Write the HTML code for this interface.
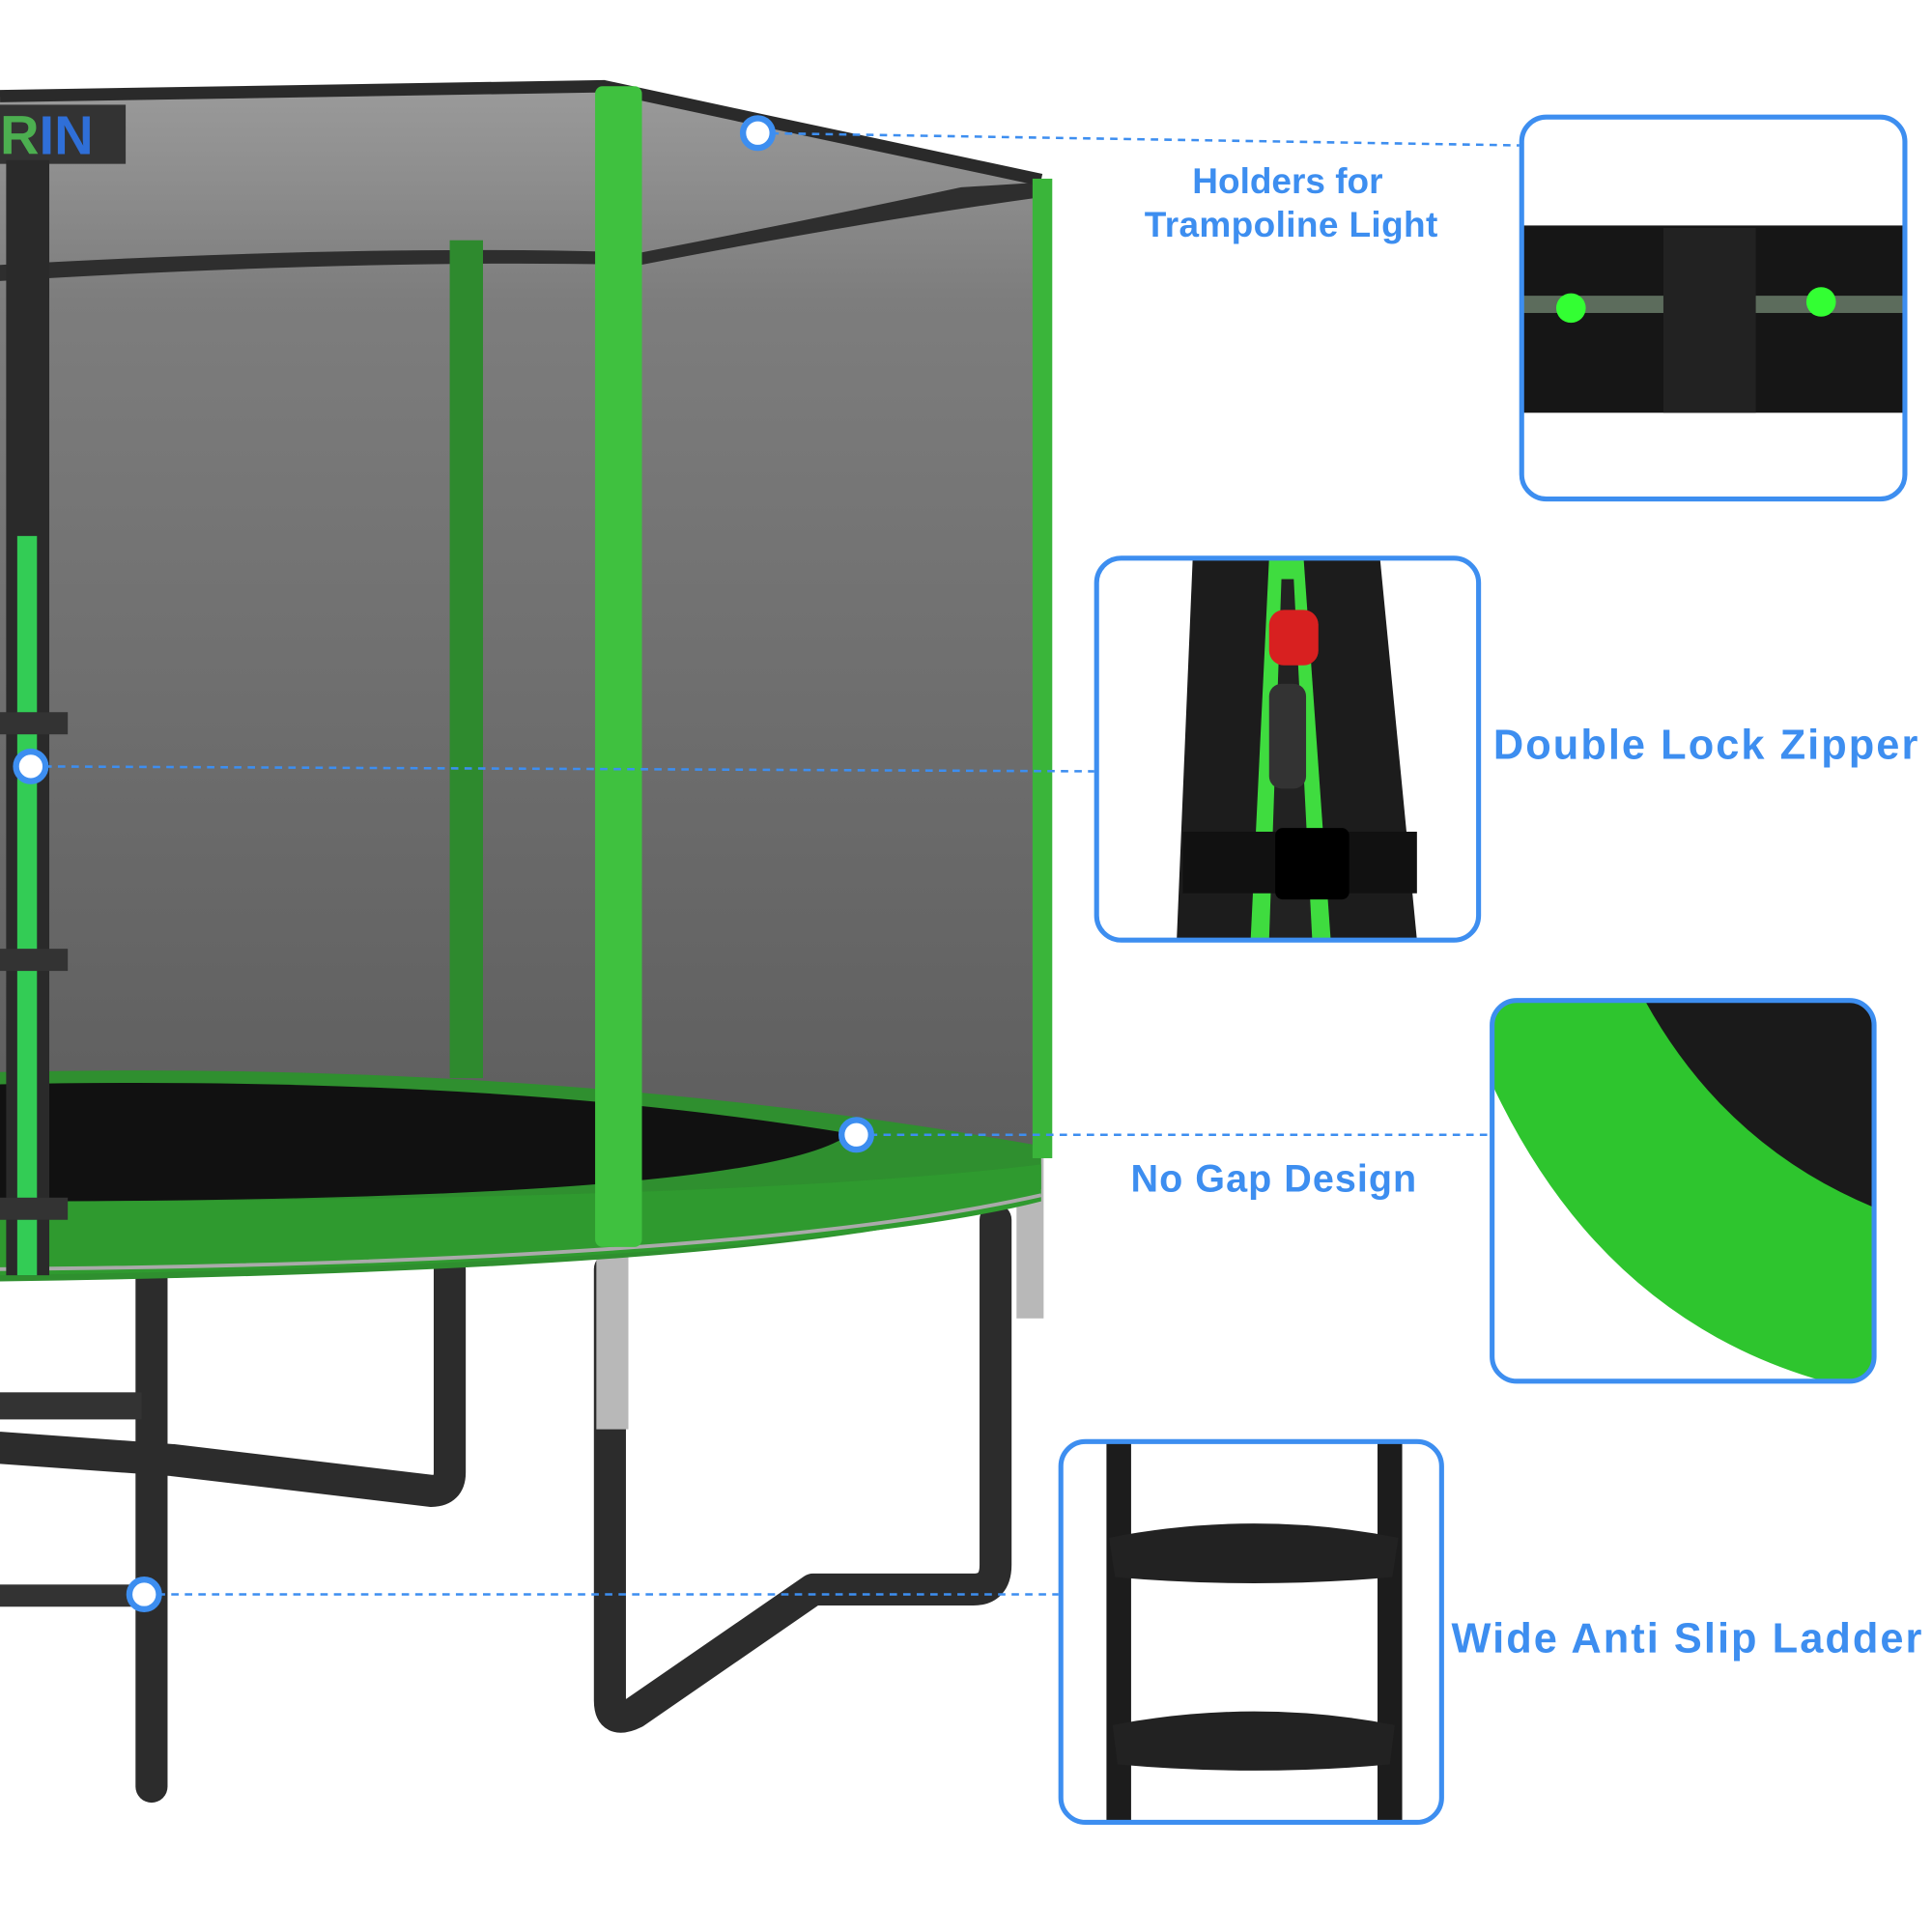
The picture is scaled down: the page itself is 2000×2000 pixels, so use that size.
<!DOCTYPE html>
<html><head><meta charset="utf-8"><style>html,body{margin:0;padding:0;background:#fff}svg{display:block}</style></head>
<body>
<svg width="2000" height="2000" viewBox="0 0 1568 1568" xmlns="http://www.w3.org/2000/svg">
<defs>
<linearGradient id="net" x1="0" y1="0" x2="0" y2="1"><stop offset="0" stop-color="#9a9a9a"/><stop offset="0.2" stop-color="#7d7d7d"/><stop offset="1" stop-color="#5e5e5e"/></linearGradient>
<clipPath id="c1"><rect x="1235" y="95" width="311" height="310" rx="20"/></clipPath>
<clipPath id="c2"><rect x="890" y="453" width="310" height="310" rx="20"/></clipPath>
<clipPath id="c3"><rect x="1211" y="812" width="310" height="309" rx="20"/></clipPath>
<clipPath id="c4"><rect x="861" y="1170" width="309" height="309" rx="20"/></clipPath>
</defs>
<rect width="1568" height="1568" fill="#fff"/>
<path d="M0 80 L490 72 L620 100 L845 148 L845 930 L0 930 Z" fill="url(#net)"/>
<path d="M0 215 Q300 198 520 205 Q650 180 780 152 L845 148 L845 160 Q700 180 520 215 Q300 210 0 228 Z" fill="#2e2e2e"/>
<path d="M0 78 L490 70 L620 98 L845 146" fill="none" stroke="#2a2a2a" stroke-width="10"/>
<rect x="0" y="85" width="102" height="48" fill="#333"/>
<text x="0" y="125" font-family="Liberation Sans,sans-serif" font-weight="bold" font-size="44" fill="#4caf50">R<tspan fill="#2f6fd8">IN</tspan></text>
<g fill="none" stroke="#2c2c2c" stroke-width="26" stroke-linejoin="round" stroke-linecap="round">
<path d="M495 1030 L495 1380 Q495 1400 515 1390 L660 1290 L790 1290 Q808 1290 808 1270 L808 990"/>
<path d="M365 1030 L365 1195 Q365 1210 350 1210 L140 1185 L0 1175"/>
<path d="M123 1030 L123 1450"/>
</g>
<rect x="0" y="1130" width="115" height="22" fill="#333"/>
<rect x="0" y="1286" width="115" height="18" fill="#333"/>
<rect x="484" y="1010" width="26" height="150" fill="#b8b8b8"/>
<rect x="825" y="940" width="22" height="130" fill="#b8b8b8"/>
<path d="M0 870 Q450 860 845 930 L845 965 Q700 1030 0 1040 Z" fill="#2f8f2f"/>
<path d="M0 880 Q400 872 690 920 Q620 975 0 975 Z" fill="#111"/>
<path d="M0 975 Q600 975 845 945 L845 975 Q650 1025 0 1035 Z" fill="#2f9a2f"/>
<path d="M0 1030 Q600 1025 845 970" fill="none" stroke="#aaa" stroke-width="3"/>
<rect x="365" y="195" width="27" height="680" fill="#2e8a2e"/>
<rect x="838" y="145" width="16" height="795" fill="#3ab53a"/>
<rect x="483" y="70" width="38" height="942" rx="6" fill="#3fc13f"/>
<rect x="5" y="130" width="35" height="905" fill="#2a2a2a"/>
<rect x="14" y="435" width="16" height="600" fill="#33cc55"/>
<rect x="0" y="578" width="55" height="18" fill="#333"/><rect x="0" y="770" width="55" height="18" fill="#333"/><rect x="0" y="972" width="55" height="18" fill="#333"/>
<g stroke="#3d8ef0" stroke-width="2" stroke-dasharray="6,5" fill="none">
<path d="M615 108 L1233 118"/><path d="M25 622 L888 626"/><path d="M695 921 L1209 921"/><path d="M117 1294 L859 1294"/>
</g>
<g fill="#fff" stroke="#3d8ef0" stroke-width="5">
<circle cx="615" cy="108" r="12"/><circle cx="25" cy="622" r="12"/><circle cx="695" cy="921" r="12"/><circle cx="117" cy="1294" r="12"/>
</g>
<g clip-path="url(#c1)"><rect x="1235" y="95" width="311" height="310" fill="#fff"/>
<rect x="1235" y="183" width="311" height="152" fill="#161616"/>
<rect x="1235" y="240" width="311" height="14" fill="#5c6c5c"/>
<rect x="1350" y="185" width="75" height="150" fill="#222"/>
<circle cx="1275" cy="250" r="12" fill="#3f3"/><circle cx="1478" cy="245" r="12" fill="#3f3"/></g>
<g clip-path="url(#c2)"><rect x="890" y="453" width="310" height="310" fill="#fff"/>
<path d="M968 453 L1120 453 L1150 763 L955 763 Z" fill="#1c1c1c"/>
<path d="M1030 453 L1058 453 L1080 763 L1015 763 Z" fill="#3fdc3f"/>
<path d="M1040 470 L1050 470 L1065 763 L1030 763 Z" fill="#222"/>
<rect x="1030" y="495" width="40" height="45" rx="12" fill="#d82020"/>
<rect x="1030" y="555" width="30" height="85" rx="10" fill="#333"/>
<rect x="960" y="675" width="190" height="50" fill="#111"/><rect x="1035" y="672" width="60" height="58" rx="6" fill="#000"/></g>
<g clip-path="url(#c3)"><rect x="1211" y="812" width="310" height="309" fill="#2ec52e"/>
<path d="M1335 812 L1521 812 L1521 980 Q1400 930 1335 812 Z" fill="#1a1a1a"/>
<path d="M1211 880 Q1300 1070 1480 1121 L1211 1121 Z" fill="#fff"/></g>
<g clip-path="url(#c4)"><rect x="861" y="1170" width="309" height="309" fill="#fff"/>
<rect x="898" y="1170" width="20" height="309" fill="#1c1c1c"/><rect x="1118" y="1170" width="20" height="309" fill="#1c1c1c"/>
<path d="M900 1248 Q1018 1225 1135 1248 L1130 1280 Q1018 1290 905 1280 Z" fill="#222"/>
<path d="M903 1400 Q1018 1378 1132 1400 L1128 1432 Q1018 1442 907 1432 Z" fill="#222"/></g>
<g fill="none" stroke="#3d8ef0" stroke-width="4">
<rect x="1235" y="95" width="311" height="310" rx="20"/>
<rect x="890" y="453" width="310" height="310" rx="20"/>
<rect x="1211" y="812" width="310" height="309" rx="20"/>
<rect x="861" y="1170" width="309" height="309" rx="20"/>
</g>
<g font-family="Liberation Sans,sans-serif" font-weight="bold" fill="#3d8ef0">
<text x="1045" y="157" font-size="29" text-anchor="middle">Holders for</text>
<text x="1048" y="192" font-size="29" text-anchor="middle" letter-spacing="0.3">Trampoline Light</text>
<text x="1212" y="616" font-size="34" letter-spacing="1.6">Double Lock Zipper</text>
<text x="1034" y="967" font-size="31" text-anchor="middle" letter-spacing="0.8">No Gap Design</text>
<text x="1178" y="1341" font-size="34" letter-spacing="1.6">Wide Anti Slip Ladder</text>
</g>
</svg>
</body></html>
